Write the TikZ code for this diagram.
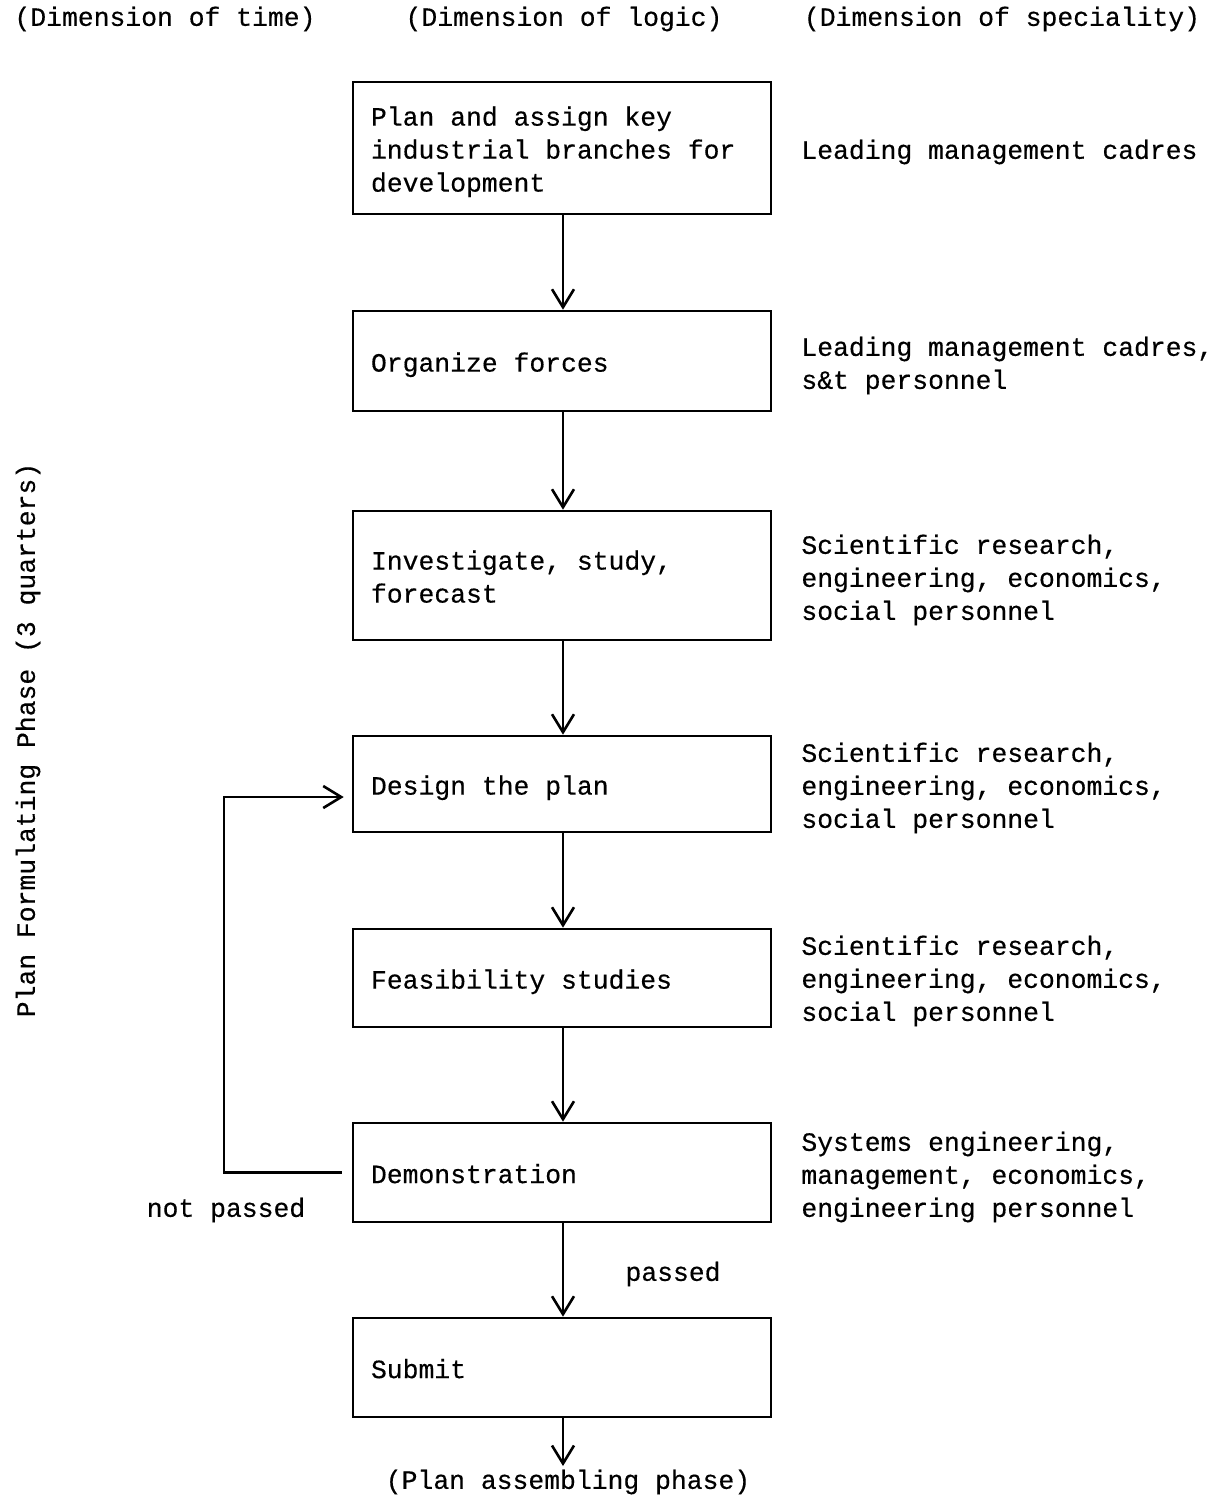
\documentclass[tikz,border=0pt]{standalone}
\usepackage{fontspec}
\setmonofont[FakeBold=0.4]{Liberation Mono}
\usetikzlibrary{arrows.meta}
\setlength{\parindent}{0pt}
\newcommand{\boxtext}[1]{\spaceskip=0pt\xspaceskip=0pt\raisebox{-2pt}[\height][\depth]{\begin{tabular}{@{}l@{}}#1\end{tabular}}}
\begin{document}
\begin{tikzpicture}[x=0.5pt,y=-0.5pt,
  every node/.style={font=\ttfamily\fontsize{13.2}{16.5}\selectfont, inner sep=0pt},
  stepbox/.style={draw, line width=1.3pt, minimum width=209pt, inner xsep=9pt},
  side/.style={anchor=west, align=left},
  conn/.style={line width=1.3pt, -{Straight Barb[length=9pt,width=11pt,line width=1.3pt]}},
]
\path[use as bounding box] (0,0) rectangle (1218,1496);

% headers
\node (h1) at (165,19) {(Dimension of time)};
\node (h2) at (564,19) {(Dimension of logic)};
\node (h3) at (1002,19) {(Dimension of speciality)};

% side label
\node[rotate=90] (phase) at (28,740) {Plan Formulating Phase (3 quarters)};

% boxes
\node[stepbox, minimum height=66pt] (b1) at (562,148) {\makebox[191pt][l]{\boxtext{Plan and assign key\\industrial branches for\\development}}};
\node[stepbox, minimum height=50pt] (b2) at (562,361) {\makebox[191pt][l]{\boxtext{Organize forces}}};
\node[stepbox, minimum height=64.5pt] (b3) at (562,575.5) {\makebox[191pt][l]{\boxtext{Investigate, study,\\forecast}}};
\node[stepbox, minimum height=48pt] (b4) at (562,784) {\makebox[191pt][l]{\boxtext{Design the plan}}};
\node[stepbox, minimum height=49pt] (b5) at (562,978) {\makebox[191pt][l]{\boxtext{Feasibility studies}}};
\node[stepbox, minimum height=49.5pt] (b6) at (562,1172.5) {\makebox[191pt][l]{\boxtext{Demonstration}}};
\node[stepbox, minimum height=49.5pt] (b7) at (562,1367.5) {\makebox[191pt][l]{\boxtext{Submit}}};

% right-hand texts
\node[side] (s1) at (801,152) {Leading management cadres};
\node[side] (s2) at (801,365.5) {Leading management cadres,\\s\&t personnel};
\node[side] (s3) at (801,580) {Scientific research,\\engineering, economics,\\social personnel};
\node[side] (s4) at (801,788) {Scientific research,\\engineering, economics,\\social personnel};
\node[side] (s5) at (801,981) {Scientific research,\\engineering, economics,\\social personnel};
\node[side] (s6) at (801,1177) {Systems engineering,\\management, economics,\\engineering personnel};

% labels
\node (np) at (226,1210) {not passed};
\node (ps) at (673,1274) {passed};
\node (pa) at (568,1482) {(Plan assembling phase)};

% connectors
\draw[conn] (b1.south -| 563,0) -- (b2.north -| 563,0);
\draw[conn] (b2.south -| 563,0) -- (b3.north -| 563,0);
\draw[conn] (b3.south -| 563,0) -- (b4.north -| 563,0);
\draw[conn] (b4.south -| 563,0) -- (b5.north -| 563,0);
\draw[conn] (b5.south -| 563,0) -- (b6.north -| 563,0);
\draw[conn] (b6.south -| 563,0) -- (b7.north -| 563,0);
\coordinate (pend) at (563,1466);
\draw[conn] (b7.south -| 563,0) -- (pend);

% loop back
\coordinate (lc1) at (b6.west -| 224,0);
\coordinate (lc2) at (224,797);
\draw[conn, shorten <=5pt, shorten >=4pt] (b6.west) -- (lc1) -- (lc2) -- (b4.west |- lc2);
\end{tikzpicture}
\end{document}
